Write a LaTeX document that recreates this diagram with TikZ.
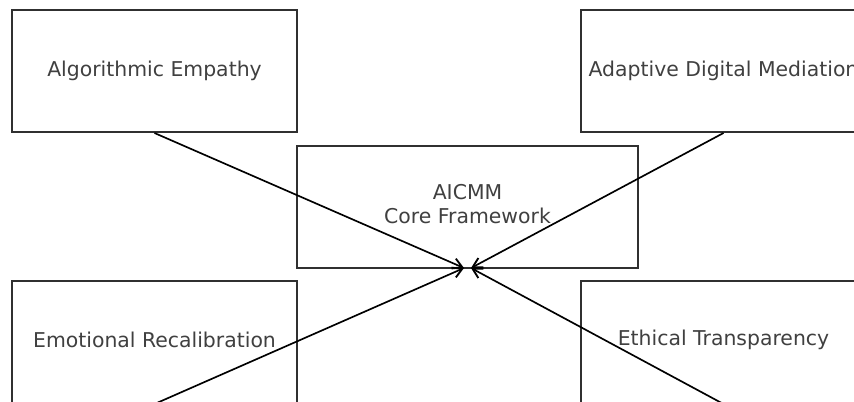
\documentclass[tikz,border=0pt]{standalone}
\usepackage{fontspec}
\setmainfont{DejaVu Sans}
\usetikzlibrary{arrows.meta}
\definecolor{boxline}{HTML}{303030}
\definecolor{labeltext}{HTML}{404040}
\tikzset{
  block/.style={draw=boxline, line width=1.5pt, minimum width=285*0.75pt,
    minimum height=122*0.75pt, inner sep=0pt},
  coreblock/.style={block, minimum width=341*0.75pt},
  lbl/.style={text=labeltext, font=\fontsize{15.3}{18}\selectfont, align=center},
  link/.style={draw=black, line width=1.25pt,
    -{Straight Barb[length=7pt, width=8pt, line width=1.4pt]}}
}
\begin{document}
\begin{tikzpicture}[x=0.75pt, y=-0.75pt]
  \useasboundingbox (0,0) rectangle (854,401);
  \clip (0,0) rectangle (854,401);
  \fill[white] (0,0) rectangle (854,401);

  % the five concept boxes
  \node[block] (emp) at (154.5,71) {};
  \node[block] (med) at (723.5,71) {};
  \node[coreblock] (core) at (467.5,206.5) {};
  \node[block] (rec) at (154.5,342) {};
  \node[block] (eth) at (723.5,342) {};

  % connectors into the core framework
  \coordinate (inL) at (464,268);
  \coordinate (inR) at (471,268);
  \draw[link] (emp.south) -- (inL);
  \draw[link] (med.south) -- (inR);
  \draw[link] (rec.south) -- (inL);
  \draw[link] (eth.south) -- (inR);

  % labels
  \node[lbl] at (emp.center) {Algorithmic Empathy};
  \node[lbl] at (med.center) {Adaptive Digital Mediation};
  \node[lbl] at (467.5,204) {AICMM\\Core Framework};
  \node[lbl] at (154.5,340) {Emotional Recalibration};
  \node[lbl] at (723.5,340) {Ethical Transparency};
\end{tikzpicture}
\end{document}
